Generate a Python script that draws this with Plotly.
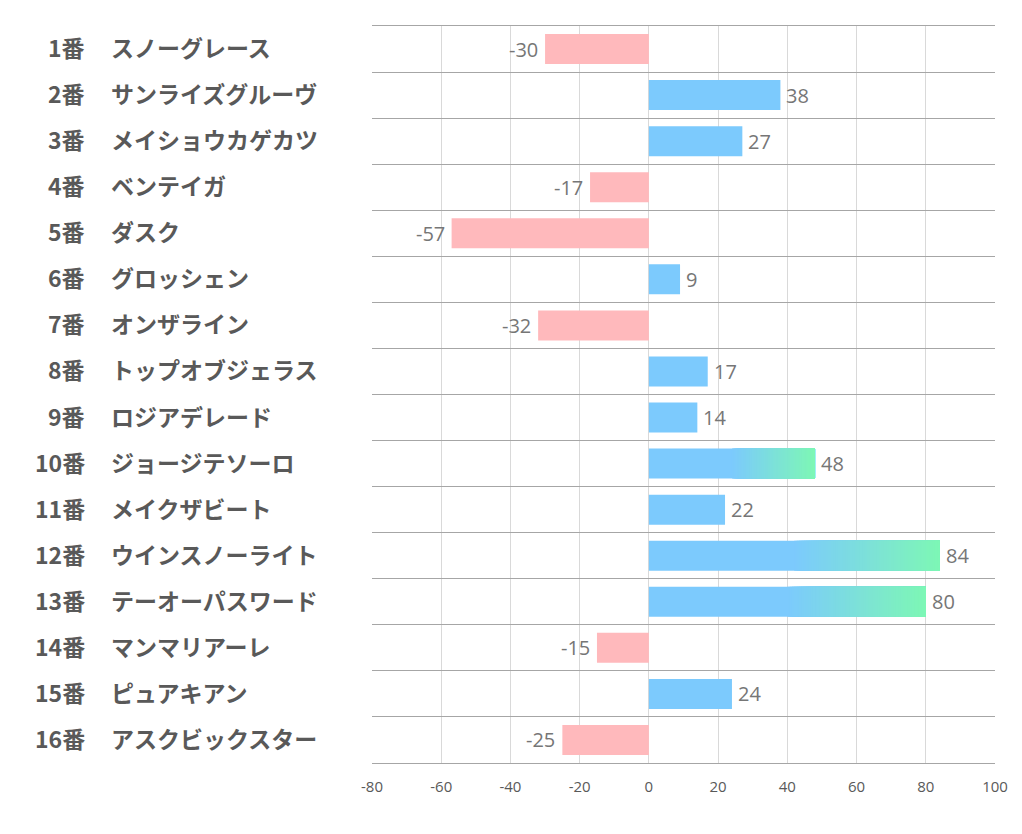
import plotly.graph_objects as go

numbers = [f"{i}番" for i in range(1, 17)]
names = ["スノーグレース", "サンライズグルーヴ", "メイショウカゲカツ", "ベンテイガ",
         "ダスク", "グロッシェン", "オンザライン", "トップオブジェラス",
         "ロジアデレード", "ジョージテソーロ", "メイクザビート", "ウインスノーライト",
         "テーオーパスワード", "マンマリアーレ", "ピュアキアン", "アスクビックスター"]
values = [-30, 38, 27, -17, -57, 9, -32, 17, 14, 48, 22, 84, 80, -15, 24, -25]
x_ticks = [-80, -60, -40, -20, 0, 20, 40, 60, 80, 100]

BLUE = (124, 202, 253)
GREEN = (125, 247, 181)
PINK = (255, 185, 188)
GRAD_MIN = 40      # bars at or above this get a gradient tail
GRAD_START = 0.5   # fraction of bar length where gradient begins
NSEG = 60

def rgb(c):
    return f"rgb({int(round(c[0]))},{int(round(c[1]))},{int(round(c[2]))})"

fig = go.Figure()

# base bars
base_c = [rgb(BLUE) if v >= 0 else rgb(PINK) for v in values]
fig.add_trace(go.Bar(x=values, y=numbers, orientation="h",
                     marker=dict(color=base_c, line=dict(width=0)),
                     hoverinfo="skip", showlegend=False))

# gradient tails: each segment spans from its start to the bar end, later ones on top
gx, gy, gb, gc = [], [], [], []
for n, v in zip(numbers, values):
    if v >= GRAD_MIN:
        start = v * GRAD_START
        seg = (v - start) / NSEG
        for k in range(NSEG):
            t = (k + 0.5) / NSEG
            col = tuple(BLUE[j] + (GREEN[j] - BLUE[j]) * t for j in range(3))
            b = start + k * seg
            gx.append(v - b)
            gb.append(b)
            gy.append(n)
            gc.append(rgb(col))
fig.add_trace(go.Bar(x=gx, y=gy, base=gb, orientation="h",
                     marker=dict(color=gc, line=dict(width=0)),
                     hoverinfo="skip", showlegend=False))

# figure is offset by the page's 8px body margin
L, R, T, B = 364, 27, 18, 71
W, H = 1014, 826
pw = W - L - R

annotations = []
for n, nm, v in zip(numbers, names, values):
    annotations.append(dict(x=v, y=n, xref="x", yref="y", text=str(v),
                            showarrow=False,
                            xanchor="left" if v >= 0 else "right",
                            xshift=4 if v >= 0 else -5, yshift=0,
                            font=dict(family="Open Sans, Noto Sans", size=20, color="#767676")))
    annotations.append(dict(x=(79 - L) / pw, y=n, xref="paper", yref="y", text=f"<b>{n}</b>",
                            showarrow=False, xanchor="right", yshift=2,
                            font=dict(family="Noto Sans CJK JP", size=23, color="#595959")))
    annotations.append(dict(x=(101 - L) / pw, y=n, xref="paper", yref="y", text=f"<b>{nm}</b>",
                            showarrow=False, xanchor="left", yshift=2,
                            font=dict(family="Noto Sans CJK JP", size=23, color="#595959")))

fig.update_layout(
    width=W, height=H,
    margin=dict(l=L, r=R, t=T, b=B),
    plot_bgcolor="white", paper_bgcolor="white",
    barmode="overlay", bargap=0.35,
    annotations=annotations,
    xaxis=dict(range=[-80, 100], tickvals=x_ticks, ticktext=[str(t) for t in x_ticks],
               showgrid=True, gridcolor="#D9D9D9", gridwidth=1,
               zeroline=False, showline=True, mirror=True, linecolor="#A6A6A6",
               linewidth=1, ticks="", ticklen=0, ticklabelstandoff=10,
               tickfont=dict(family="Open Sans, Noto Sans", size=15, color="#595959")),
    yaxis=dict(categoryorder="array", categoryarray=numbers, autorange="reversed",
               tickson="boundaries", showgrid=True, gridcolor="#A6A6A6", gridwidth=1,
               showticklabels=False, ticks="", zeroline=False, showline=False),
)

fig.write_html("out.html")
